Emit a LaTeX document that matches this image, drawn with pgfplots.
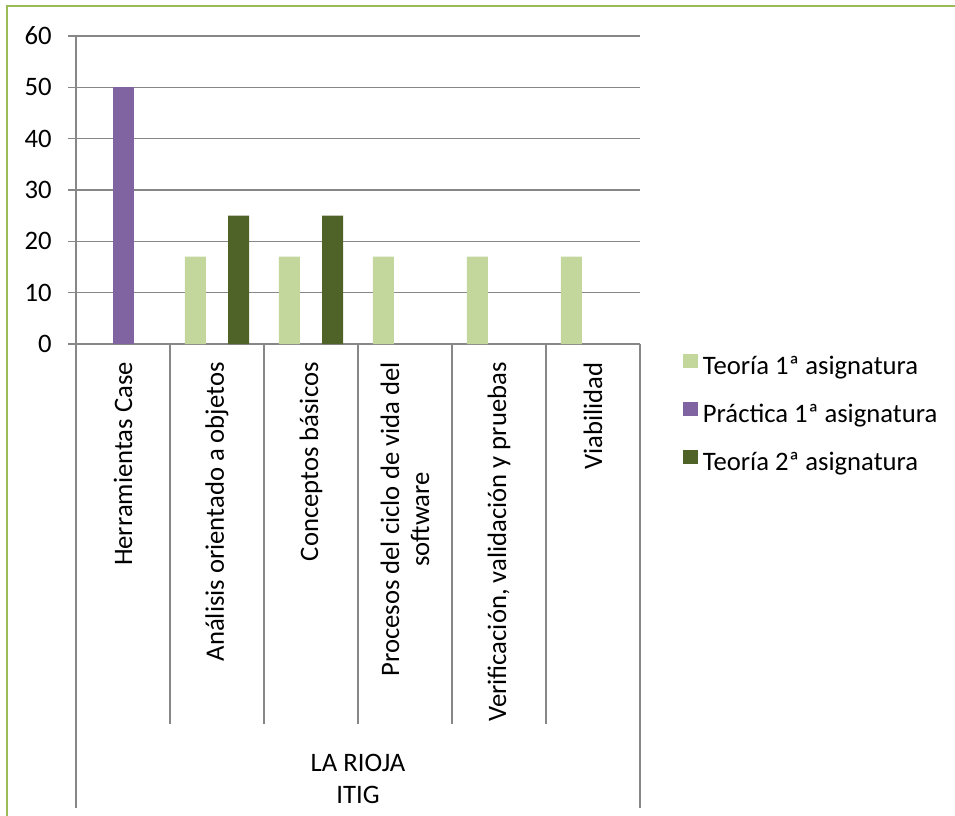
\documentclass[border=0pt]{standalone}
\usepackage{fontspec}
\setmainfont{Carlito}
\usepackage{pgfplots}
\pgfplotsset{compat=1.18}
\definecolor{tA}{HTML}{C3D69B}
\definecolor{pB}{HTML}{8064A2}
\definecolor{tC}{HTML}{4F6228}
\definecolor{grd}{HTML}{878787}
\definecolor{brd}{HTML}{9BBB59}
\begin{document}
\begin{tikzpicture}
\useasboundingbox (0pt,0pt) rectangle (716.25pt,-612pt);
\draw[brd, line width=1.3pt] (5.25pt,-612pt) -- (5.25pt,-4.5pt) -- (716.25pt,-4.5pt);
\begin{axis}[
  at={(57pt,-258pt)}, anchor=south west,
  scale only axis, width=423pt, height=231pt,
  xmin=-0.5, xmax=5.5, ymin=0, ymax=60,
  ytick={0,10,...,60},
  xtick={0,...,5},
  xticklabels={Herramientas Case, Análisis orientado a objetos, Conceptos básicos, {Procesos del ciclo de vida del\\software}, {Verificación, validación y pruebas}, Viabilidad},
  axis lines*=left,
  axis line style={grd, line width=1.1pt, -},
  ymajorgrids, grid style={grd, line width=1.1pt},
  tick align=outside, major tick length=6pt,
  ytick style={grd, line width=1.1pt},
  xtick style={draw=none},
  xticklabel style={rotate=90, anchor=east, inner sep=0pt, align=center, font=\fontsize{20}{22.5}\selectfont},
  xticklabel shift=7.5pt,
  yticklabel style={font=\fontsize{20}{24}\selectfont, inner sep=0pt, anchor=east},
  yticklabel shift=12pt,
  /pgf/number format/assume math mode=true,
  ybar=0.4pt, bar width=15.75pt,
  clip=false,
  legend image code/.code={\fill[#1] (0pt,0pt) rectangle (11pt,10.5pt);},
  legend style={at={(1,0)}, anchor=north west, xshift=32.25pt, yshift=-7.5pt,
    draw=none, fill=none, inner sep=0pt, column sep=3.75pt, row sep=15.25pt,
    nodes={inner sep=0pt, text height=15pt, text depth=5pt},
    font=\fontsize{20}{24}\selectfont},
  legend cell align=left,
]
\addplot[fill=tA, draw=none] coordinates {(1,17) (2,17) (3,17) (4,17) (5,17)};
\addplot[fill=pB, draw=none] coordinates {(0,50)};
\addplot[fill=tC, draw=none] coordinates {(1,25) (2,25)};
\legend{Teoría 1ª asignatura, Práctica 1ª asignatura, Teoría 2ª asignatura}
\draw[grd, line width=1.1pt] (axis cs:0.5,0) -- ++(0pt,-285pt);
\draw[grd, line width=1.1pt] (axis cs:1.5,0) -- ++(0pt,-285pt);
\draw[grd, line width=1.1pt] (axis cs:2.5,0) -- ++(0pt,-285pt);
\draw[grd, line width=1.1pt] (axis cs:3.5,0) -- ++(0pt,-285pt);
\draw[grd, line width=1.1pt] (axis cs:4.5,0) -- ++(0pt,-285pt);
\draw[grd, line width=1.1pt] (axis cs:-0.5,0) -- ++(0pt,-348pt);
\draw[grd, line width=1.1pt] (axis cs:5.5,0) -- ++(0pt,-348pt);
\node[align=center, font=\fontsize{20}{24}\selectfont, yshift=-326.25pt] at (axis cs:2.5,0) {LA RIOJA\\ITIG};
\end{axis}
\end{tikzpicture}
\end{document}
